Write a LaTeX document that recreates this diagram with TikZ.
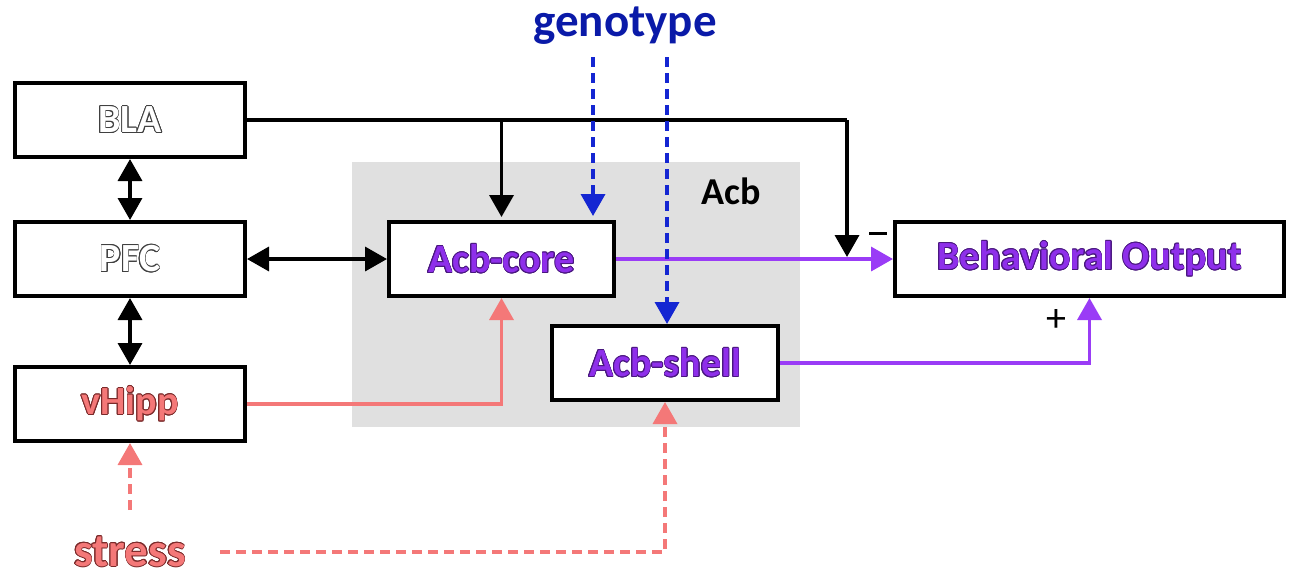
\documentclass[tikz,border=0pt]{standalone}
\usepackage{fontspec}
\setmainfont{Carlito}
\usepackage{contour}
\contourlength{0.7pt}
\usetikzlibrary{arrows.meta}
\definecolor{purp}{HTML}{8E2FEA}
\definecolor{purpline}{HTML}{9A3CF6}
\definecolor{purpdark}{HTML}{4A1880}
\definecolor{salmon}{HTML}{F47878}
\definecolor{salmondark}{HTML}{7A2A2A}
\definecolor{gblue}{HTML}{0A1AA8}
\definecolor{dblue}{HTML}{1426D2}
\definecolor{acbgray}{HTML}{E0E0E0}
\tikzset{
  box/.style={draw=black, line width=4pt, fill=white, minimum width=230pt, minimum height=74pt, inner sep=0pt, font=\bfseries\fontsize{40}{44}\selectfont},
  tip/.style={-{Triangle[width=24pt,length=22pt]}},
  dtip/.style={{Triangle[width=24pt,length=22pt]}-{Triangle[width=24pt,length=22pt]}},
  conn/.style={line width=3.6pt},
  dashconn/.style={line width=3.6pt, dash pattern=on 10pt off 6pt},
}
\newcommand{\outl}[3]{\contour{#1}{\textcolor{#2}{#3}}}
\begin{document}
\begin{tikzpicture}[x=1pt,y=-1pt]
\useasboundingbox (0,0) rectangle (1300,584);
% Acb region
\fill[acbgray] (352,162) rectangle (800,427);
\node[font=\bfseries\fontsize{38}{42}\selectfont] (acb) at (731,191) {Acb};
% boxes
\node[box] (bla) at (130,120) {\outl{black!75}{white}{BLA}};
\node[box] (pfc) at (130,259) {\outl{black!75}{white}{PFC}};
\node[box] (vhipp) at (130,404) {\outl{salmondark}{salmon}{vHipp}};
\node[box, minimum width=225pt] (core) at (501.5,259) {\outl{purpdark}{purp}{Acb-core}};
\node[box, minimum width=226pt] (shell) at (665,363) {\outl{purpdark}{purp}{Acb-shell}};
\node[box, minimum width=389pt] (bo) at (1089.5,259) {\outl{purpdark}{purp}{Behavioral Output}};
% external labels
\node[font=\bfseries\fontsize{47}{50}\selectfont, text=gblue] (geno) at (625,26) {genotype};
\node[font=\bfseries\fontsize{47}{50}\selectfont] (stress) at (130,552) {\outl{salmondark}{salmon}{stress}};
\node[inner sep=0pt] (minus) at (878,233) {\rule{18pt}{3pt}};
\node[font=\fontsize{40}{44}\selectfont] (plus) at (1056,320) {+};
% coordinates
\coordinate (btip) at (847,257);
\coordinate (g1) at (593,57);
\coordinate (g2) at (667,57);
\coordinate (s1) at (130,510);
\coordinate (s2) at (220,552);
% black connectors
\draw[conn] (bla.east) -| ++(600,0) coordinate (bcorner);
\draw[conn,tip] (bcorner) -- (btip);
\draw[conn,tip,shorten >=3pt] (core.north |- bla.east) -- (core.north);
\draw[conn,dtip] (bla.south) -- (pfc.north);
\draw[conn,dtip] (pfc.south) -- (vhipp.north);
\draw[conn,dtip] (pfc.east) -- (core.west);
% purple
\draw[conn,purpline,tip] (core.east) -- (bo.west);
\draw[conn,purpline,tip] (shell.east) -| (bo.south);
% salmon
\draw[conn,salmon,tip] (vhipp.east) -| (core.south);
\draw[dashconn,salmon,tip] (s1) -- (vhipp.south);
\draw[dashconn,salmon,tip] (s2) -| (shell.south);
% blue dashed
\draw[dashconn,dblue,tip,shorten >=4pt] (g1) -- (g1 |- core.north);
\draw[dashconn,dblue,tip] (g2) -- (g2 |- shell.north);
\end{tikzpicture}
\end{document}
